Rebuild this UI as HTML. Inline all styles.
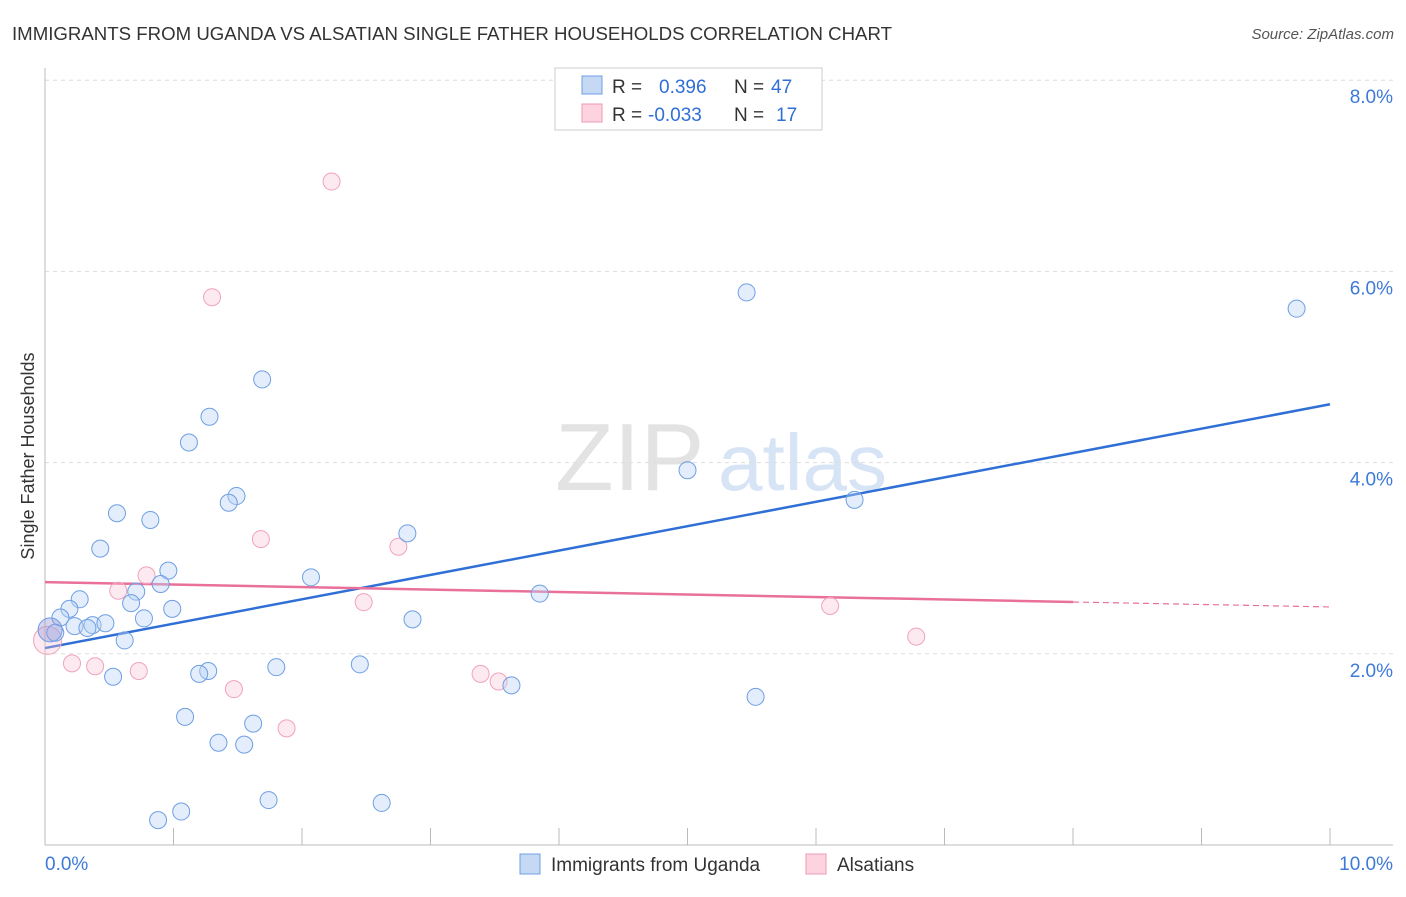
<!DOCTYPE html>
<html><head><meta charset="utf-8"><style>
body{margin:0;background:#fff;font-family:"Liberation Sans",sans-serif;}
svg text{font-family:"Liberation Sans",sans-serif;}
</style></head><body>
<svg width="1406" height="892" xmlns="http://www.w3.org/2000/svg" id="chart">
<text x="12" y="40" font-size="18" fill="#333" textLength="880" lengthAdjust="spacingAndGlyphs">IMMIGRANTS FROM UGANDA VS ALSATIAN SINGLE FATHER HOUSEHOLDS CORRELATION CHART</text>
<text x="1394" y="39" font-size="15" fill="#555" text-anchor="end" font-style="italic">Source: ZipAtlas.com</text>
<text x="555" y="490" font-size="96" fill="#e3e3e3" font-family="Liberation Serif">ZIP</text>
<text x="718" y="490" font-size="80" fill="#d6e4f5">atlas</text>
<text transform="translate(34,456) rotate(-90)" font-size="18" fill="#333" text-anchor="middle">Single Father Households</text>
<g id="grid"></g><g id="axes"></g><g id="trends"></g><g id="points"></g>
<g>
<rect x="555" y="68" width="267" height="62" fill="#fff" stroke="#ccc"/>
<rect x="582" y="76" width="20" height="18" fill="#c5d9f5" stroke="#6f9fe0"/>
<rect x="582" y="104" width="20" height="18" fill="#fcd3df" stroke="#ef97b3"/>
<text x="612" y="93" font-size="19" fill="#333">R =</text><text x="659" y="93" font-size="19" fill="#2f6fd6">0.396</text>
<text x="734" y="93" font-size="19" fill="#333">N =</text><text x="771" y="93" font-size="19" fill="#2f6fd6">47</text>
<text x="612" y="121" font-size="19" fill="#333">R =</text><text x="648" y="121" font-size="19" fill="#2f6fd6">-0.033</text>
<text x="734" y="121" font-size="19" fill="#333">N =</text><text x="776" y="121" font-size="19" fill="#2f6fd6">17</text>
</g>
<g>
<rect x="520" y="854" width="20" height="20" fill="#c5d9f5" stroke="#6f9fe0"/>
<text x="551" y="871" font-size="19" fill="#333">Immigrants from Uganda</text>
<rect x="806" y="854" width="20" height="20" fill="#fcd3df" stroke="#ef97b3"/>
<text x="837" y="871" font-size="19" fill="#333">Alsatians</text>
</g>
</svg>
<script>
const yTicks=[2,4,6,8];
const yTickLabels=["2.0%","4.0%","6.0%","8.0%"];
const xLabels=["0.0%","10.0%"];
const blueX=[1.69,1.28,1.12,1.49,1.43,0.56,0.82,0.43,0.96,0.90,0.71,0.27,0.67,0.19,0.99,0.12,0.77,0.23,0.37,0.47,0.33,0.08,0.62,2.82,2.07,2.86,3.85,5.00,6.30,5.46,9.74,1.80,2.45,1.27,1.20,0.53,3.63,5.53,1.09,1.62,1.35,1.55,1.74,2.62,1.06,0.88,0.04];
const blueY=[4.87,4.48,4.21,3.65,3.58,3.47,3.40,3.10,2.87,2.73,2.65,2.57,2.53,2.47,2.47,2.38,2.37,2.29,2.30,2.32,2.27,2.22,2.14,3.26,2.80,2.36,2.63,3.92,3.61,5.78,5.61,1.86,1.89,1.82,1.79,1.76,1.67,1.55,1.34,1.27,1.07,1.05,0.47,0.44,0.35,0.26,2.25];
const pinkX=[2.23,1.30,1.68,2.75,0.79,0.57,2.48,6.11,6.78,0.21,0.39,0.73,3.39,3.53,1.47,1.88,0.02];
const pinkY=[6.94,5.73,3.20,3.12,2.82,2.66,2.54,2.50,2.18,1.90,1.87,1.82,1.79,1.71,1.63,1.22,2.14];
const blueTrend=[2.06,4.61];
const pinkTrend=[2.75,2.49];
const pinkSolidEnd=8.0;
const X=v=>45+v*128.5, Y=v=>845-v*95.6;
const NS="http://www.w3.org/2000/svg";
function mk(tag,attrs,parent){const e=document.createElementNS(NS,tag);for(const k in attrs)e.setAttribute(k,attrs[k]);document.getElementById(parent).appendChild(e);return e;}
yTicks.forEach((t,i)=>{
 const l=mk('line',{x1:45,x2:1393,y1:Y(t),y2:Y(t),stroke:'#ddd','stroke-dasharray':'4,4'},'grid');
 
 
 const tx=mk('text',{x:1393,y:Y(t)+23,'font-size':19,fill:'#3d7ad8','text-anchor':'end'},'grid');
 tx.textContent=yTickLabels[i];
 
 
});
let a=mk('line',{x1:45,x2:45,y1:68,y2:845,stroke:'#bbb'},'axes');


a=mk('line',{x1:45,x2:1393,y1:845,y2:845,stroke:'#bbb'},'axes');


for(let i=1;i<=10;i++){const t=mk('line',{x1:X(i),x2:X(i),y1:828,y2:845,stroke:'#bbb'},'axes');
 
 }
[[0,45,'start'],[10,1393,'end']].forEach((d,i)=>{const t=mk('text',{x:d[1],y:870,'font-size':19,fill:'#3d7ad8','text-anchor':d[2]},'axes');t.textContent=xLabels[i];
 
 });
const pt=(v,x)=>pinkTrend[0]+(pinkTrend[1]-pinkTrend[0])*x/10;
let tl=mk('line',{x1:X(0),y1:Y(blueTrend[0]),x2:X(10),y2:Y(blueTrend[1]),stroke:'#2f6fd6','stroke-width':2.5},'trends');


tl=mk('line',{x1:X(0),y1:Y(pinkTrend[0]),x2:X(pinkSolidEnd),y2:Y(pt(0,pinkSolidEnd)),stroke:'#e8709a','stroke-width':2.5},'trends');


tl=mk('line',{x1:X(pinkSolidEnd),y1:Y(pt(0,pinkSolidEnd)),x2:X(10),y2:Y(pinkTrend[1]),stroke:'#e8709a','stroke-width':1.2,'stroke-dasharray':'6,4'},'trends');


pinkX.forEach((x,i)=>{const last=i===pinkX.length-1;const c=mk('circle',{cx:X(x),cy:Y(pinkY[i]),r:last?14:8.5,fill:'rgba(250,195,212,0.35)',stroke:'#f0a3bc','stroke-width':1},'points');
 
 });
blueX.forEach((x,i)=>{const last=i===blueX.length-1;const c=mk('circle',{cx:X(x),cy:Y(blueY[i]),r:last?12:8.5,fill:last?'rgba(150,150,215,0.4)':'rgba(185,210,245,0.4)',stroke:'#6e9fe3','stroke-width':1},'points');
 
 });
</script>
</body></html>
